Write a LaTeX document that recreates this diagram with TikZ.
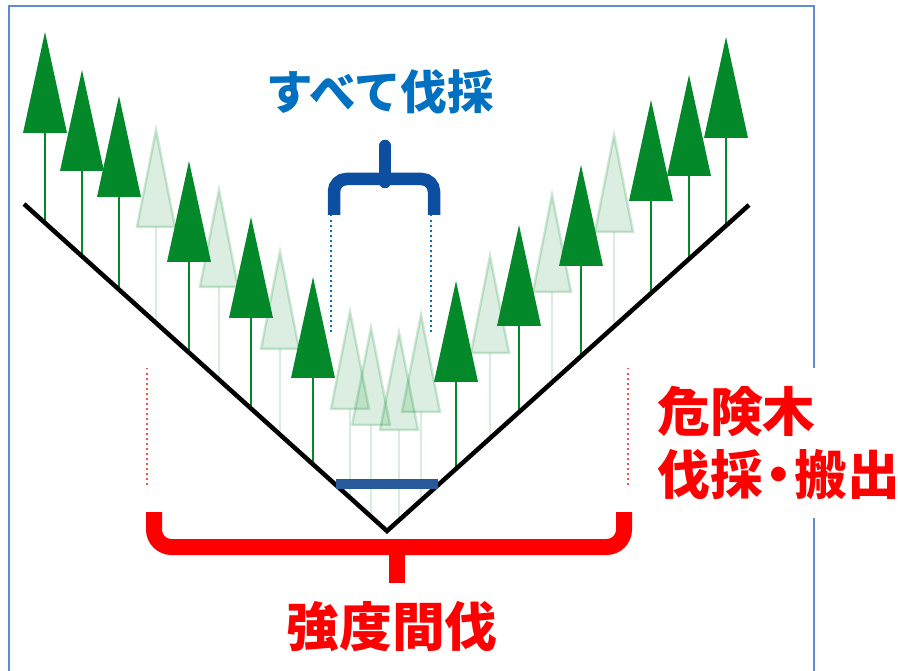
\documentclass[tikz,border=0pt]{standalone}
\usepackage{fontspec}
\newfontfamily\jp{Noto Sans CJK JP}
\usetikzlibrary{positioning}
\definecolor{treegreen}{RGB}{3,137,41}
\definecolor{cutblue}{RGB}{0,112,192}
\definecolor{bracenavy}{RGB}{12,78,160}
\definecolor{barblue}{RGB}{40,90,155}
\definecolor{frameblue}{RGB}{95,140,205}
\definecolor{thinred}{RGB}{255,0,0}

\begin{document}
\begin{tikzpicture}[
    x=0.02cm, y=-0.02cm,
    darktree/.style={fill=treegreen},
    ghosttree/.style={
        fill=treegreen, fill opacity=0.14,
        draw=treegreen, draw opacity=0.2,
        line width=0.05cm
    },
    trunk/.style={draw=treegreen, line width=0.045cm},
    ghosttrunk/.style={draw=treegreen, draw opacity=0.15, line width=0.04cm},
    ground/.style={draw=black, line width=0.09cm},
    frame/.style={draw=frameblue, line width=0.03cm},
    guide/.style={dotted, line width=0.03cm},
    cutbrace/.style={draw=bracenavy, line width=0.25cm, rounded corners=0.25cm},
    thinbrace/.style={draw=thinred, line width=0.32cm, rounded corners=0.35cm},
    label/.style={inner sep=0pt, font=\jp\bfseries\fontsize{30}{36.3}\selectfont}
]
\useasboundingbox (0,0) rectangle (898,671);

% frame, open at the bottom
\draw[frame] (9,671) -- (9,6) -- (814,6) -- (814,671);

% thinned trees (faded)
\foreach \x/\y in {156/130, 219/190, 280/252, 350/312, 371/328, 399/333,
                   421/315, 490/256, 552/195, 614/135} {
  \pgfmathsetmacro\gy{531-0.9*abs(\x-387)}
  \draw[ghosttrunk] (\x,\y+97) -- (\x,\gy);
  \path[ghosttree] (\x,\y) -- (\x-19,\y+97) -- (\x+19,\y+97) -- cycle;
}

% remaining trees
\foreach \x/\y in {45/32, 82/70, 119/96, 189/161, 251/217, 313/277,
                   456/281, 519/225, 581/165, 651/100, 689/75, 726/37} {
  \pgfmathsetmacro\gy{531-0.9*abs(\x-387)}
  \draw[trunk] (\x,\y+100) -- (\x,\gy);
  \fill[darktree] (\x,\y) -- (\x-22,\y+101) -- (\x+22,\y+101) -- cycle;
}

% valley slopes
\draw[ground] (24,204) coordinate (lefttop) -- (387,531) coordinate (valley)
  -- (749,205) coordinate (righttop);
\draw[barblue, line width=0.22cm] (336,484) -- (438,484);

% brace over the clear-cut strip
\coordinate (cutleft) at (334,215);
\coordinate (cutright) at (434,215);
\draw[cutbrace] (cutleft) |- (385,179);
\draw[cutbrace] (cutright) |- (385,179);
\draw[cutbrace, line cap=round] (385,182) -- (385,146);
\draw[guide, draw=cutblue] ([xshift=-0.06cm]cutleft) -- ++(0,120);
\draw[guide, draw=cutblue] ([xshift=-0.06cm]cutright) -- ++(0,120);

% brace under the heavily thinned stand
\coordinate (thinleft) at (154,512);
\coordinate (thinright) at (624,512);
\draw[thinbrace] (thinleft) |- (397,547);
\draw[thinbrace] (thinright) |- (397,547);
\draw[thinbrace] (397,545) -- (397,583);
\draw[guide, draw=thinred!70] (147,368) -- (147,485);
\draw[guide, draw=thinred!70] (628,368) -- (628,485);

% labels
\node[label, text=cutblue, font=\jp\bfseries\fontsize{26.5}{30}\selectfont]
  (cutall) at (380,92) {すべて伐採};
\node[label, text=thinred] (thinning) at (392,627) {強度間伐};
\node[label, text=thinred, fill=white, align=left, anchor=west,
  minimum height=3cm] (hazard) at (657,443)
  {危険木\\伐採\kern-0.2em・\kern-0.2em搬出};
\end{tikzpicture}
\end{document}
